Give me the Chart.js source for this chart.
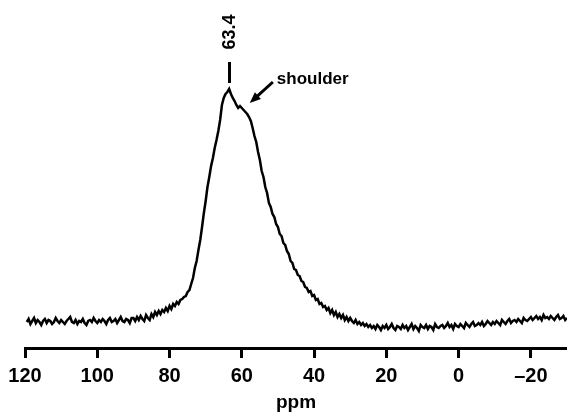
<!DOCTYPE html>
<html>
<head>
<meta charset="utf-8">
<script src="https://cdn.jsdelivr.net/npm/chart.js@4.4.0/dist/chart.umd.min.js"></script>
<style>
  html, body { margin: 0; padding: 0; background: #fff; }
  #wrap { width: 567px; height: 414px; }
</style>
</head>
<body>
<div id="wrap"><canvas id="spectrum"></canvas></div>
<script>
// chemical shift sampling (ppm), high -> low
const ppmStart = 119.5;
const ppmStep = 0.5;

// intensity, split by region
const baselineLeft = [
  26, 29, 24, 27, 30, 25, 28, 26, 23, 27, 29, 25, 28, 27, 24, 26, 30, 27, 25, 28, 26, 24, 27, 29, 31, 26, 25, 28, 24, 27,
  26, 29, 25, 23, 27, 28, 26, 30, 27, 25, 28, 26, 29, 27, 24, 28, 30, 26, 27, 29, 25, 28, 31, 27, 26, 29, 28, 25, 30
];
const footLeft = [
  30, 27, 31, 28, 32, 29, 27, 33, 30, 28, 34, 31, 36, 33, 37, 34, 38, 36, 40, 37, 42, 39, 44, 42, 46, 44, 48, 49
];
const riseLeft = [
  51, 52, 56, 58, 64, 70, 80, 87, 98, 108, 121, 135, 147, 161, 171, 182, 190, 200, 208, 217
];
const peakTop = [
  228, 243, 250, 254, 256, 259, 254, 250, 247, 243, 240, 242, 240, 238, 236, 234
];
const tailRight = [
  231, 227, 220, 212, 206, 196, 188, 177, 171, 161, 155, 145, 141, 134, 131, 124, 121, 114, 112, 105,
  103, 97, 94, 87, 85, 79, 78, 73, 72, 67, 66, 61, 60, 56, 57, 52, 53, 48, 49, 44,
  45, 41, 42, 38, 40, 35, 38, 33, 36, 31, 34, 30, 33, 28, 31, 27, 30
];
const baselineRight = [
  27, 25, 28, 24, 26, 23, 25, 22, 24, 21,
  23, 20, 22, 19, 23, 21, 18, 22, 20, 23,
  19, 21, 24, 20, 18, 22, 21, 19, 23, 20,
  22, 18, 21, 24, 19, 22, 20, 17, 23, 21,
  20, 23, 19, 22, 21, 18, 24, 21, 20, 22,
  23, 20, 22, 25, 21, 23, 19, 24, 22, 21,
  24, 22, 20, 25, 23, 21, 24, 26, 22, 23,
  25, 23, 26, 22, 24, 27, 25, 23, 26, 24,
  27, 25, 23, 28, 26, 24, 27, 29, 25, 27,
  28, 26, 29, 27, 25, 30, 28, 27, 29, 31,
  28, 30, 32, 29, 31, 28, 33, 30, 31, 29,
  32, 30, 28, 31, 33, 29, 30, 32, 28, 30
];

const tickValues = [120, 100, 80, 60, 40, 20, 0, -20];

const peakShift = 63.4;
const shoulderShift = 57.8;

const intensity = [].concat(baselineLeft, footLeft, riseLeft, peakTop, tailRight, baselineRight);
const points = intensity.map((v, i) => ({ x: ppmStart - i * ppmStep, y: v }));

const FONT = "'Liberation Sans', Arial, Helvetica, sans-serif";

const peakLabels = {
  id: "peakLabels",
  afterDraw(chart) {
    const { ctx, scales } = chart;
    const xs = scales.x;
    const ys = scales.y;
    const px = xs.getPixelForValue(peakShift);

    ctx.save();
    ctx.fillStyle = "#000";
    ctx.strokeStyle = "#000";

    // marker dash above the peak
    ctx.lineWidth = 3;
    ctx.beginPath();
    ctx.moveTo(px, ys.getPixelForValue(265));
    ctx.lineTo(px, ys.getPixelForValue(286));
    ctx.stroke();

    // rotated shift value
    ctx.save();
    ctx.translate(px + 1, ys.getPixelForValue(316));
    ctx.rotate(-Math.PI / 2);
    ctx.font = "bold 18px " + FONT;
    ctx.textAlign = "center";
    ctx.textBaseline = "middle";
    ctx.fillText("63.4", 0, 0);
    ctx.restore();

    // shoulder arrow
    const hx = xs.getPixelForValue(shoulderShift);
    const hy = ys.getPixelForValue(245);
    const tx = xs.getPixelForValue(51.4);
    const ty = ys.getPixelForValue(266);
    const ang = Math.atan2(hy - ty, hx - tx);
    ctx.lineWidth = 3;
    ctx.beginPath();
    ctx.moveTo(tx, ty);
    ctx.lineTo(hx - 8 * Math.cos(ang), hy - 8 * Math.sin(ang));
    ctx.stroke();
    ctx.beginPath();
    ctx.moveTo(hx, hy);
    ctx.lineTo(hx - 11 * Math.cos(ang) + 4.5 * Math.sin(ang), hy - 11 * Math.sin(ang) - 4.5 * Math.cos(ang));
    ctx.lineTo(hx - 11 * Math.cos(ang) - 4.5 * Math.sin(ang), hy - 11 * Math.sin(ang) + 4.5 * Math.cos(ang));
    ctx.closePath();
    ctx.fill();

    ctx.font = "bold 17px " + FONT;
    ctx.textAlign = "left";
    ctx.textBaseline = "alphabetic";
    ctx.fillText("shoulder", xs.getPixelForValue(50.3), ys.getPixelForValue(264));
    ctx.restore();
  },
};

new Chart(document.getElementById("spectrum"), {
  type: "line",
  data: {
    datasets: [
      {
        label: "spectrum",
        data: points,
        borderColor: "#000",
        borderWidth: 2.5,
        pointRadius: 0,
        tension: 0,
        fill: false,
      },
    ],
  },
  options: {
    responsive: true,
    maintainAspectRatio: false,
    animation: false,
    layout: {
      padding: { left: 25, right: 0, top: 0, bottom: 0 },
    },
    plugins: {
      legend: { display: false },
      tooltip: { enabled: false },
    },
    scales: {
      x: {
        type: "linear",
        reverse: true,
        min: -30,
        max: 120,
        afterBuildTicks: (scale) => {
          scale.ticks = tickValues.map((v) => ({ value: v }));
        },
        afterFit: (scale) => {
          scale.height = 66;
        },
        border: { display: true, color: "#000", width: 3 },
        grid: {
          drawOnChartArea: false,
          drawTicks: true,
          tickLength: 10,
          lineWidth: 3,
          color: "#000",
        },
        ticks: {
          color: "#000",
          padding: 6,
          maxRotation: 0,
          font: { family: FONT, size: 20, weight: "bold" },
          callback: (v) => (v < 0 ? "\u2013" + Math.abs(v) : String(v)),
        },
        title: {
          display: true,
          text: "ppm",
          color: "#000",
          padding: { top: 0, bottom: 0 },
          font: { family: FONT, size: 19, weight: "bold" },
        },
      },
      y: {
        type: "linear",
        display: false,
        min: 0,
        max: 348,
      },
    },
  },
  plugins: [peakLabels],
});
</script>
</body>
</html>
